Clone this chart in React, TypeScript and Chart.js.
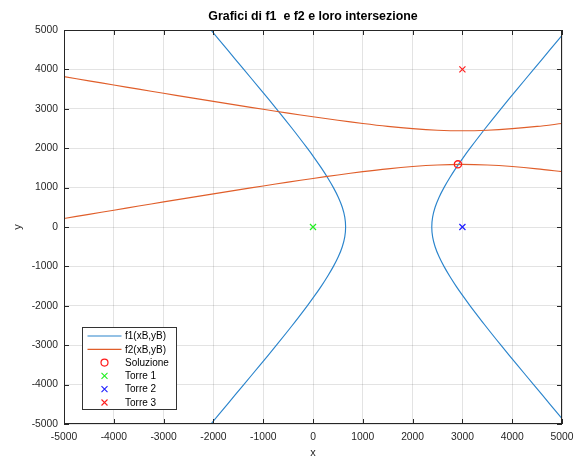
import React, { useEffect, useRef } from 'react';
import { Chart, registerables } from 'chart.js';

Chart.register(...registerables);

// f1 hyperbola branches (sampled along y)
const f1BranchY = [-5000, -4500, -4000, -3500, -3000, -2500, -2000, -1750, -1500, -1250, -1000, -750, -500, -250, 0, 250, 500, 750, 1000, 1250, 1500, 1750, 2000, 2500, 3000, 3500, 4000, 4500, 5000];
const f1LeftX = [-2050, -1720, -1390, -1060, -734, -418, -115, 30, 167, 294, 410, 510, 588, 638, 655, 638, 588, 510, 410, 294, 167, 30, -115, -418, -734, -1060, -1390, -1720, -2050];
const f1RightX = [5090, 4760, 4430, 4100, 3774, 3458, 3155, 3010, 2873, 2746, 2630, 2530, 2452, 2402, 2385, 2402, 2452, 2530, 2630, 2746, 2873, 3010, 3155, 3458, 3774, 4100, 4430, 4760, 5090];

// f2 hyperbola branches (sampled along x)
const f2X = [-5000, -4500, -4000, -3500, -3000, -2500, -2000, -1500, -1000, -500, 0, 500, 1000, 1500, 2000, 2500, 3000, 3500, 4000, 4500, 5000];
const f2UpperY = [3815, 3709, 3604, 3498, 3394, 3291, 3188, 3087, 2988, 2891, 2798, 2709, 2626, 2553, 2495, 2456, 2442, 2456, 2495, 2553, 2626];
const f2LowerY = [215, 321, 426, 532, 636, 739, 842, 943, 1042, 1139, 1232, 1321, 1404, 1477, 1535, 1574, 1588, 1574, 1535, 1477, 1404];

const soluzioneX = [2910];
const soluzioneY = [1590];
const torre1X = [0];
const torre1Y = [0];
const torre2X = [3000];
const torre2Y = [0];
const torre3X = [3000];
const torre3Y = [4000];

const xTicks = [-5000, -4000, -3000, -2000, -1000, 0, 1000, 2000, 3000, 4000, 5000];
const yTicks = [-5000, -4000, -3000, -2000, -1000, 0, 1000, 2000, 3000, 4000, 5000];

const titleText = 'Grafici di f1  e f2 e loro intersezione';
const legendLabels = ['f1(xB,yB)', 'f2(xB,yB)', 'Soluzione', 'Torre 1', 'Torre 2', 'Torre 3'];

const F1_COLOR = '#2A84CC';
const F2_COLOR = '#E05E2A';
const SOL_COLOR = '#FF1A1A';
const T1_COLOR = '#22EE22';
const T2_COLOR = '#2020FF';
const T3_COLOR = '#FF2020';
const AXIS_COLOR = '#262626';
const FONT = '"Liberation Sans", Arial, Helvetica, sans-serif';

const zip = (xs: number[], ys: number[]) => xs.map((x, i) => ({ x, y: ys[i] }));

const matlabPlugin = {
  id: 'matlabBox',
  afterDraw(chart: any) {
    const { ctx, chartArea } = chart;
    const { left, right, top, bottom } = chartArea;
    const xs = chart.scales.x;
    const ys = chart.scales.y;
    ctx.save();

    // title centred over the axes
    ctx.fillStyle = '#000000';
    ctx.font = 'bold 12.4px ' + FONT;
    ctx.textAlign = 'center';
    ctx.textBaseline = 'middle';
    ctx.fillText(titleText, (left + right) / 2, 17);

    ctx.strokeStyle = AXIS_COLOR;
    ctx.lineWidth = 1;
    ctx.beginPath();
    const tl = 5;
    xTicks.forEach((v) => {
      const px = Math.round(xs.getPixelForValue(v)) + 0.5;
      ctx.moveTo(px, bottom);
      ctx.lineTo(px, bottom - tl);
      ctx.moveTo(px, top);
      ctx.lineTo(px, top + tl);
    });
    yTicks.forEach((v) => {
      const py = Math.round(ys.getPixelForValue(v)) + 0.5;
      ctx.moveTo(left, py);
      ctx.lineTo(left + tl, py);
      ctx.moveTo(right, py);
      ctx.lineTo(right - tl, py);
    });
    ctx.stroke();
    ctx.strokeRect(Math.round(left) + 0.5, Math.round(top) + 0.5, Math.round(right - left) - 1, Math.round(bottom - top) - 1);

    // legend
    const bx = 82.5, by = 327.5, bw = 94, bh = 82;
    ctx.fillStyle = '#FFFFFF';
    ctx.fillRect(bx, by, bw, bh);
    ctx.strokeStyle = '#333333';
    ctx.lineWidth = 1;
    ctx.strokeRect(bx, by, bw, bh);
    const rowY0 = 336;
    const rowH = 13.3;
    const lineX0 = 87.5, lineX1 = 121.5, markX = 104.5, textX = 125;
    ctx.font = '10px ' + FONT;
    ctx.textBaseline = 'middle';
    ctx.textAlign = 'left';
    legendLabels.forEach((label, i) => {
      const yy = rowY0 + i * rowH;
      ctx.lineWidth = 1.2;
      if (i === 0 || i === 1) {
        ctx.strokeStyle = i === 0 ? F1_COLOR : F2_COLOR;
        ctx.beginPath();
        ctx.moveTo(lineX0, yy);
        ctx.lineTo(lineX1, yy);
        ctx.stroke();
      } else if (i === 2) {
        ctx.strokeStyle = SOL_COLOR;
        ctx.beginPath();
        ctx.arc(markX, yy, 3.5, 0, Math.PI * 2);
        ctx.stroke();
      } else {
        ctx.strokeStyle = i === 3 ? T1_COLOR : i === 4 ? T2_COLOR : T3_COLOR;
        ctx.lineWidth = 1.1;
        const r = 3;
        ctx.beginPath();
        ctx.moveTo(markX - r, yy - r);
        ctx.lineTo(markX + r, yy + r);
        ctx.moveTo(markX - r, yy + r);
        ctx.lineTo(markX + r, yy - r);
        ctx.stroke();
      }
      ctx.fillStyle = '#000000';
      ctx.fillText(label, textX, yy + 0.5);
    });
    ctx.restore();
  },
};

export default function App() {
  const canvasRef = useRef<HTMLCanvasElement | null>(null);

  useEffect(() => {
    if (!canvasRef.current) return;
    const curve = (label: string, data: any[], color: string, order: number) => ({
      type: 'scatter' as const,
      label,
      data,
      showLine: true,
      borderColor: color,
      backgroundColor: color,
      borderWidth: 1.15,
      pointRadius: 0,
      pointHoverRadius: 0,
      tension: 0.3,
      order,
    });
    const marker = (label: string, data: any[], color: string, style: string, radius: number, order: number) => ({
      type: 'scatter' as const,
      label,
      data,
      showLine: false,
      borderColor: color,
      pointBorderColor: color,
      backgroundColor: 'rgba(0,0,0,0)',
      pointBackgroundColor: 'rgba(0,0,0,0)',
      pointStyle: style,
      pointRadius: radius,
      pointBorderWidth: style === 'circle' ? 1.3 : 1.2,
      order,
    });

    const chart = new Chart(canvasRef.current, {
      type: 'scatter',
      data: {
        datasets: [
          marker('Torre 3', zip(torre3X, torre3Y), T3_COLOR, 'crossRot', 4.3, 1),
          marker('Torre 2', zip(torre2X, torre2Y), T2_COLOR, 'crossRot', 4.3, 2),
          marker('Torre 1', zip(torre1X, torre1Y), T1_COLOR, 'crossRot', 4.3, 3),
          marker('Soluzione', zip(soluzioneX, soluzioneY), SOL_COLOR, 'circle', 3.6, 4),
          curve('f2(xB,yB)', zip(f2X, f2LowerY), F2_COLOR, 5),
          curve('f2(xB,yB) upper', zip(f2X, f2UpperY), F2_COLOR, 6),
          curve('f1(xB,yB) right', zip(f1RightX, f1BranchY), F1_COLOR, 7),
          curve('f1(xB,yB)', zip(f1LeftX, f1BranchY), F1_COLOR, 8),
        ] as any,
      },
      options: {
        animation: false,
        responsive: false,
        maintainAspectRatio: false,
        events: [],
        layout: { padding: { top: 0, right: 15, bottom: 0, left: 0 } },
        plugins: {
          legend: { display: false },
          tooltip: { enabled: false },
          title: {
            display: true,
            text: titleText,
            color: 'rgba(0,0,0,0)',
            font: { family: FONT, size: 12, weight: 'bold' },
            padding: { top: 9, bottom: 6.6 },
          },
        },
        scales: {
          x: {
            type: 'linear',
            min: -5000,
            max: 5000,
            afterBuildTicks: (s: any) => {
              s.ticks = xTicks.map((v) => ({ value: v }));
            },
            afterFit: (s: any) => {
              s.height = 33;
              s.paddingLeft = 0;
              s.paddingRight = 0;
            },
            ticks: {
              color: AXIS_COLOR,
              font: { family: FONT, size: 10.3 },
              padding: 7,
              maxRotation: 0,
              autoSkip: false,
              callback: (v: any) => String(v),
            },
            grid: { color: 'rgba(38,38,38,0.13)', drawTicks: false },
            border: { display: false },
            title: {
              display: true,
              text: 'x',
              color: AXIS_COLOR,
              font: { family: FONT, size: 11 },
              padding: { top: 0, bottom: -3 },
            },
          },
          y: {
            type: 'linear',
            min: -5000,
            max: 5000,
            afterBuildTicks: (s: any) => {
              s.ticks = yTicks.map((v) => ({ value: v }));
            },
            afterFit: (s: any) => {
              s.width = 64;
              s.paddingTop = 0;
              s.paddingBottom = 0;
            },
            ticks: {
              color: AXIS_COLOR,
              font: { family: FONT, size: 10.3 },
              padding: 6,
              autoSkip: false,
              callback: (v: any) => String(v),
            },
            grid: { color: 'rgba(38,38,38,0.13)', drawTicks: false },
            border: { display: false },
            title: {
              display: true,
              text: 'y',
              color: AXIS_COLOR,
              font: { family: FONT, size: 11 },
              padding: { top: 11, bottom: 0 },
            },
          },
        },
      } as any,
      plugins: [matlabPlugin as any],
    });
    return () => chart.destroy();
  }, []);

  return (
    <div style={{ position: 'fixed', left: 0, top: 0, width: 577, height: 457, background: '#FFFFFF' }}>
      <canvas ref={canvasRef} width={577} height={457} style={{ width: 577, height: 457, display: 'block' }} />
    </div>
  );
}
